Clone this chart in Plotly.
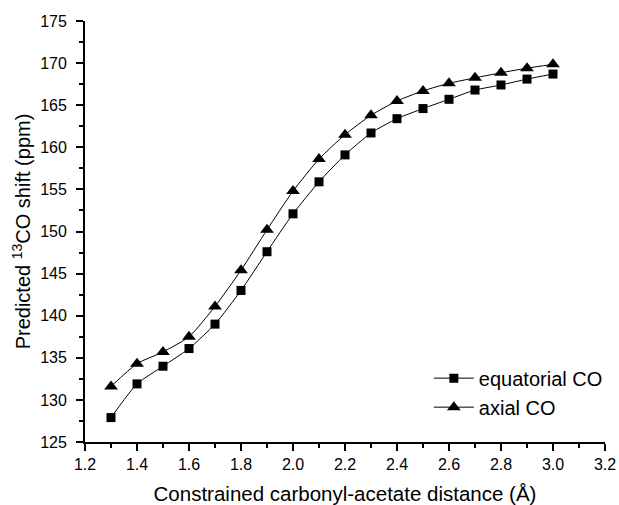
import plotly.graph_objects as go

distance = [1.3, 1.4, 1.5, 1.6, 1.7, 1.8, 1.9, 2.0, 2.1, 2.2, 2.3, 2.4, 2.5, 2.6, 2.7, 2.8, 2.9, 3.0]
equatorial = [127.9, 131.9, 134.0, 136.1, 139.0, 143.0, 147.6, 152.1, 155.9, 159.1, 161.7, 163.4, 164.6, 165.7, 166.8, 167.4, 168.1, 168.7]
axial = [131.6, 134.3, 135.7, 137.5, 141.1, 145.4, 150.2, 154.8, 158.6, 161.5, 163.8, 165.5, 166.7, 167.6, 168.25, 168.85, 169.4, 169.85]

font_family = "Liberation Sans, Arial, sans-serif"

fig = go.Figure()
fig.add_trace(go.Scatter(
    x=distance, y=equatorial, name="equatorial CO", mode="lines+markers",
    line=dict(color="black", width=1, shape="spline", smoothing=0.6),
    marker=dict(symbol="square", size=9, color="black"),
))
fig.add_trace(go.Scatter(
    x=distance, y=axial, name="axial CO", mode="lines+markers",
    line=dict(color="black", width=1, shape="spline", smoothing=0.6),
    marker=dict(symbol="triangle-up", size=12, color="black"),
))

axis_common = dict(
    showline=True, linecolor="black", linewidth=1.8, mirror=False,
    ticks="outside", ticklen=7, tickwidth=1.8, tickcolor="black",
    showgrid=False, zeroline=False, automargin=False,
    tickfont=dict(family=font_family, size=16, color="black"),
)

fig.update_xaxes(
    range=[1.2, 3.2], dtick=0.2, tick0=1.2, tickformat=".1f",
    minor=dict(dtick=0.1, ticks="outside", ticklen=4, tickwidth=1.8, tickcolor="black"),
    title=dict(text="Constrained carbonyl-acetate distance (Å)",
               font=dict(family=font_family, size=20.5, color="black"), standoff=15),
    **axis_common,
)
fig.update_yaxes(
    range=[125, 175], dtick=5, tick0=125, ticklabelstandoff=6,
    minor=dict(dtick=2.5, ticks="outside", ticklen=4, tickwidth=1.8, tickcolor="black"),
    title=dict(text="Predicted <sup>13</sup>CO shift (ppm)",
               font=dict(family=font_family, size=20, color="black"), standoff=4),
    **axis_common,
)

fig.update_layout(
    width=619, height=505,
    margin=dict(l=85, r=13, t=21, b=63),
    paper_bgcolor="white", plot_bgcolor="white",
    font=dict(family=font_family, color="black"),
    legend=dict(x=0.66, y=0.198, xanchor="left", yanchor="top",
                bgcolor="rgba(0,0,0,0)", font=dict(family=font_family, size=20, color="black"),
                tracegroupgap=0, itemwidth=40),
    showlegend=True,
)

fig.write_html("out.html")
